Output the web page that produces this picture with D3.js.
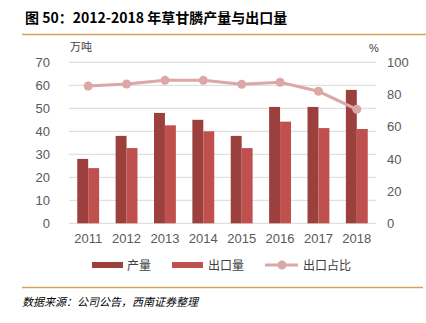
<!doctype html>
<html lang="zh">
<head>
<meta charset="UTF-8">
<title>草甘膦产量与出口量</title>
<script src="https://d3js.org/d3.v7.min.js"></script>
<style>
  body { margin: 0; background: #fff; }
  text { font-family: "Liberation Sans", Arial, "Noto Sans CJK SC", sans-serif; }
  .cjk { font-family: "Noto Sans CJK SC", sans-serif; }
</style>
</head>
<body>
<div id="chart"></div>
<script>
var years = ["2011", "2012", "2013", "2014", "2015", "2016", "2017", "2018"];
var output = [28, 38, 48, 45, 38, 50.6, 50.6, 58];
var exports = [24, 32.7, 42.6, 40, 32.7, 44.2, 41.4, 41];
var exportShare = [85.3, 86.5, 88.8, 88.8, 86.3, 87.6, 82, 70.8];
var leftTicks = [0, 10, 20, 30, 40, 50, 60, 70];
var rightTicks = [0, 20, 40, 60, 80, 100];

var W = 426, H = 323;
var svg = d3.select("#chart").append("svg")
    .attr("width", W).attr("height", H);

// title + rules
svg.append("text").attr("x", 25).attr("y", 23)
    .attr("font-size", 14).attr("font-weight", "bold").attr("fill", "#000")
    .attr("class", "cjk")
    .text("图 50：2012-2018 年草甘膦产量与出口量");
svg.append("line").attr("x1", 22).attr("x2", 426).attr("y1", 34.5).attr("y2", 34.5)
    .attr("stroke", "#d3a35c").attr("stroke-width", 1.5);
svg.append("line").attr("x1", 22).attr("x2", 423).attr("y1", 287.5).attr("y2", 287.5)
    .attr("stroke", "#d3a35c").attr("stroke-width", 1.5);
svg.append("text").attr("x", 22).attr("y", 306)
    .attr("font-size", 11).attr("font-style", "italic").attr("fill", "#000")
    .attr("class", "cjk")
    .text("数据来源：公司公告，西南证券整理");

var x0 = 69, x1 = 376, yTop = 62.3, yBot = 223.3;
var x = d3.scaleBand().domain(years).range([x0, x1]).paddingInner(0.43).paddingOuter(0.215);
var yL = d3.scaleLinear().domain([0, 70]).range([yBot, yTop]);
var yR = d3.scaleLinear().domain([0, 100]).range([yBot, yTop]);

// gridlines
svg.append("g").selectAll("line").data(leftTicks).join("line")
    .attr("x1", x0).attr("x2", x1)
    .attr("y1", d => yL(d)).attr("y2", d => yL(d))
    .attr("stroke", "#d9d9d9").attr("stroke-width", 1);

// axes
var axL = svg.append("g").attr("transform", "translate(" + x0 + ",0)")
    .call(d3.axisLeft(yL).tickValues(leftTicks).tickSize(0).tickPadding(19));
var axR = svg.append("g").attr("transform", "translate(" + x1 + ",0)")
    .call(d3.axisRight(yR).tickValues(rightTicks).tickSize(0).tickPadding(11));
var axB = svg.append("g").attr("transform", "translate(0," + yBot + ")")
    .call(d3.axisBottom(x).tickSize(0).tickPadding(10));
[axL, axR, axB].forEach(function (g) {
  g.select(".domain").remove();
  g.selectAll("text").attr("font-size", 13).attr("fill", "#595959")
      .attr("font-family", "Liberation Sans, Arial, sans-serif");
});

svg.append("text").attr("x", 70).attr("y", 51).attr("font-size", 11)
    .attr("fill", "#404040").attr("class", "cjk").text("万吨");
svg.append("text").attr("x", 369).attr("y", 52).attr("font-size", 11)
    .attr("fill", "#404040").text("%");

// bars
var bw = x.bandwidth() / 2;
svg.append("g").selectAll("rect").data(years).join("rect")
    .attr("x", d => x(d)).attr("width", bw)
    .attr("y", (d, i) => yL(output[i])).attr("height", (d, i) => yBot - yL(output[i]))
    .attr("fill", "#9c403d");
svg.append("g").selectAll("rect").data(years).join("rect")
    .attr("x", d => x(d) + bw).attr("width", bw)
    .attr("y", (d, i) => yL(exports[i])).attr("height", (d, i) => yBot - yL(exports[i]))
    .attr("fill", "#c0504d");

// share line
var cx = d => x(d) + x.bandwidth() / 2;
var line = d3.line().x((d, i) => cx(years[i])).y(d => yR(d));
svg.append("path").datum(exportShare).attr("d", line)
    .attr("fill", "none").attr("stroke", "#dba7a7").attr("stroke-width", 3);
svg.append("g").selectAll("circle").data(exportShare).join("circle")
    .attr("cx", (d, i) => cx(years[i])).attr("cy", d => yR(d)).attr("r", 4.5)
    .attr("fill", "#dba7a7");

// legend
var lg = svg.append("g").attr("class", "cjk");
lg.append("rect").attr("x", 92).attr("y", 262).attr("width", 31).attr("height", 6).attr("fill", "#9c403d");
lg.append("text").attr("x", 127).attr("y", 270).attr("font-size", 12).attr("fill", "#404040").text("产量");
lg.append("rect").attr("x", 172).attr("y", 262).attr("width", 31).attr("height", 6).attr("fill", "#c0504d");
lg.append("text").attr("x", 208).attr("y", 270).attr("font-size", 12).attr("fill", "#404040").text("出口量");
lg.append("line").attr("x1", 265).attr("x2", 298).attr("y1", 265).attr("y2", 265)
    .attr("stroke", "#dba7a7").attr("stroke-width", 3);
lg.append("circle").attr("cx", 282).attr("cy", 265).attr("r", 4.5).attr("fill", "#dba7a7");
lg.append("text").attr("x", 303).attr("y", 270).attr("font-size", 12).attr("fill", "#404040").text("出口占比");
</script>
</body>
</html>
